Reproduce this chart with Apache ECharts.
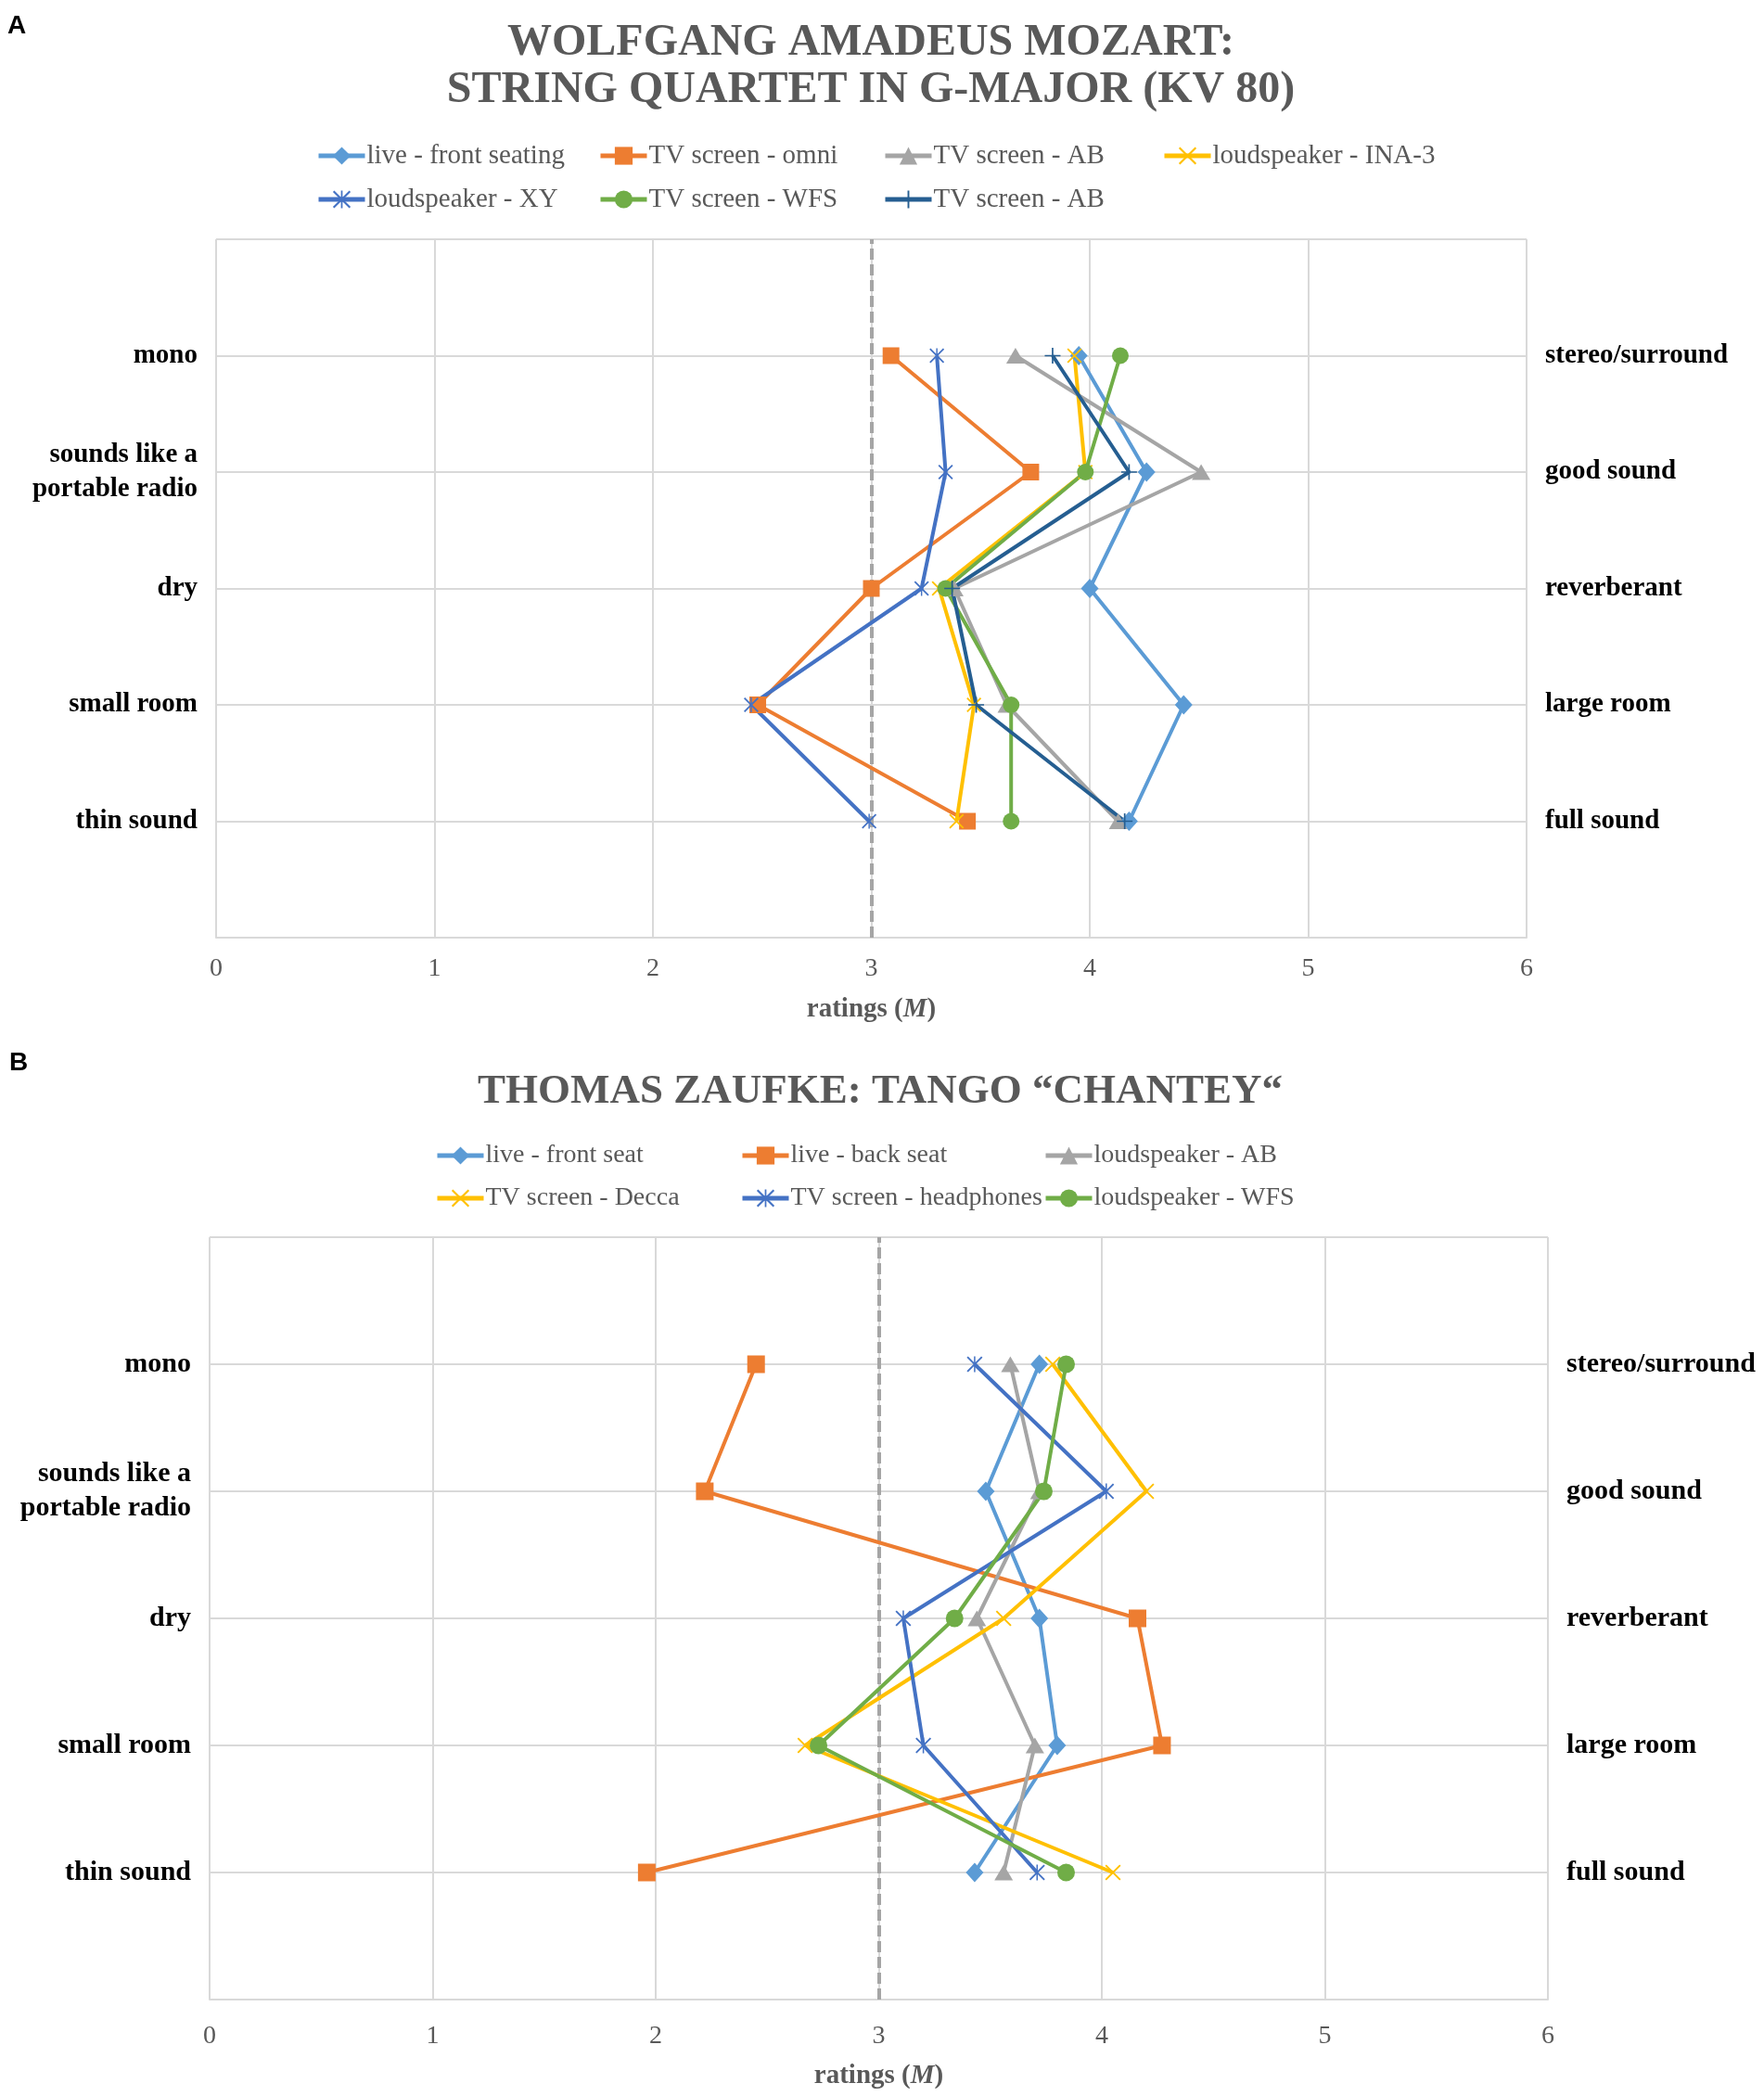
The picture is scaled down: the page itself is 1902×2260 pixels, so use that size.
<!DOCTYPE html>
<html>
<head>
<meta charset="utf-8">
<style>
html,body{margin:0;padding:0;background:#fff;}
#chart{width:1902px;height:2260px;}
</style>
<script src="https://cdn.jsdelivr.net/npm/echarts@6/dist/echarts.min.js"></script>
</head>
<body>
<div id="chart"></div>
<script>
// ---- data ----
const leftLabels = ['mono', 'sounds like a\nportable radio', 'dry', 'small room', 'thin sound'];
const rightLabels = ['stereo/surround', 'good sound', 'reverberant', 'large room', 'full sound'];
const rowPositions = [5, 4, 3, 2, 1];
const neutralRating = 3;

const titleA = ['WOLFGANG AMADEUS MOZART:', 'STRING QUARTET IN G-MAJOR (KV 80)'];
const titleB = 'THOMAS ZAUFKE: TANGO “CHANTEY“';

// Panel A series (order of rows: mono, good sound, dry, small room, thin sound)
const namesA = ['live - front seating', 'TV screen - omni', 'TV screen - AB', 'loudspeaker - INA-3',
                'loudspeaker - XY', 'TV screen - WFS', 'TV screen - AB '];
const mozartLiveFront   = [3.95, 4.26, 4.00, 4.43, 4.18];
const mozartTvOmni      = [3.09, 3.73, 3.00, 2.48, 3.44];
const mozartTvAB        = [3.66, 4.51, 3.38, 3.62, 4.13];
const mozartLsINA3      = [3.93, 3.98, 3.31, 3.47, 3.39];
const mozartLsXY        = [3.30, 3.34, 3.23, 2.45, 2.99];
const mozartTvWFS       = [4.14, 3.98, 3.34, 3.64, 3.64];
const mozartTvAB2       = [3.83, 4.18, 3.37, 3.48, 4.16];

// Panel B series
const namesB = ['live - front seat', 'live - back seat', 'loudspeaker - AB',
                'TV screen - Decca', 'TV screen - headphones', 'loudspeaker - WFS'];
const tangoLiveFront    = [3.72, 3.48, 3.72, 3.80, 3.43];
const tangoLiveBack     = [2.45, 2.22, 4.16, 4.27, 1.96];
const tangoLsAB         = [3.59, 3.72, 3.44, 3.70, 3.56];
const tangoTvDecca      = [3.78, 4.20, 3.56, 2.67, 4.05];
const tangoTvHeadphones = [3.43, 4.02, 3.11, 3.20, 3.71];
const tangoLsWFS        = [3.84, 3.74, 3.34, 2.73, 3.84];

// ---- styling ----
const SERIF = '"Liberation Serif", "Times New Roman", serif';
const GRAY_TXT = '#595959';
const GRID_CLR = '#D9D9D9';
const C = {
  lightBlue: '#5B9BD5', orange: '#ED7D31', gray: '#A5A5A5', gold: '#FFC000',
  blue: '#4472C4', green: '#70AD47', navy: '#255E91'
};
const XPATH = 'path://M0 0.8 L0.8 0 L10 9.2 L9.2 10 Z M9.2 0 L10 0.8 L0.8 10 L0 9.2 Z';
const STARPATH = 'path://M0 0.8 L0.8 0 L10 9.2 L9.2 10 Z M9.2 0 L10 0.8 L0.8 10 L0 9.2 Z M4.55 0 L5.45 0 L5.45 10 L4.55 10 Z';
const PLUSPATH = 'path://M4.5 0 L5.5 0 L5.5 10 L4.5 10 Z M0 5.5 L0 4.5 L10 4.5 L10 5.5 Z';

const gridA = {left: 233, top: 258, width: 1413, height: 753};
const gridB = {left: 226, top: 1334, width: 1443, height: 822};

function toPoints(vals) { return vals.map((v, i) => [v, rowPositions[i]]); }

function mkSeries(name, vals, color, symbol, size, axisIdx, withMark) {
  const s = {
    name: name, type: 'line', xAxisIndex: axisIdx, yAxisIndex: axisIdx * 2,
    data: toPoints(vals), symbol: symbol, symbolSize: size, showSymbol: true,
    lineStyle: {color: color, width: 4}, itemStyle: {color: color, borderWidth: 0},
    color: color, animation: false, z: 3
  };
  if (withMark) {
    s.markLine = {
      silent: true, symbol: ['none', 'none'], label: {show: false},
      lineStyle: {color: '#A5A5A5', width: 4, type: [12, 5]},
      data: [{xAxis: neutralRating}], z: 2, animation: false
    };
  }
  return s;
}

function catFormatter(labels) {
  return function (v) {
    const i = rowPositions.indexOf(Math.round(v));
    return i >= 0 ? labels[i] : '';
  };
}

function xAxisCfg(gridIndex, margin, gap) {
  return {
    type: 'value', gridIndex: gridIndex, min: 0, max: 6, interval: 1,
    axisLine: {show: true, lineStyle: {color: GRID_CLR, width: 2}},
    axisTick: {show: false},
    splitLine: {show: true, lineStyle: {color: GRID_CLR, width: 2}},
    axisLabel: {color: GRAY_TXT, fontFamily: SERIF, fontSize: 28, margin: margin},
    name: '{b|ratings (}{i|M}{b|)}', nameLocation: 'middle', nameGap: gap,
    nameTextStyle: {
      rich: {
        b: {fontFamily: SERIF, fontWeight: 'bold', fontSize: 29, color: GRAY_TXT},
        i: {fontFamily: SERIF, fontWeight: 'bold', fontStyle: 'italic', fontSize: 29, color: GRAY_TXT}
      }
    }
  };
}

function yAxisCfg(gridIndex, position, labels, fs, showSplit) {
  return {
    type: 'value', gridIndex: gridIndex, position: position, min: 0, max: 6, interval: 1,
    axisLine: {show: false}, axisTick: {show: false},
    splitLine: {show: showSplit, lineStyle: {color: GRID_CLR, width: 2}},
    axisLabel: {
      formatter: catFormatter(labels), color: '#000', fontFamily: SERIF, fontWeight: 'bold',
      fontSize: fs, lineHeight: 37, margin: 20,
      align: position === 'left' ? 'right' : 'left'
    }
  };
}

function legendCol(left, top, items, fs, gap) {
  return {
    orient: 'vertical', left: left, top: top, data: items,
    itemWidth: 50, itemHeight: 24, itemGap: gap,
    lineStyle: {width: 5},
    textStyle: {fontFamily: SERIF, fontSize: fs, color: GRAY_TXT, lineHeight: 30, padding: [0, 0, 0, -3]},
    selectedMode: false
  };
}

const series = [
  mkSeries(namesA[0], mozartLiveFront, C.lightBlue, 'diamond', [19, 21], 0, true),
  mkSeries(namesA[1], mozartTvOmni, C.orange, 'rect', 18, 0, false),
  mkSeries(namesA[2], mozartTvAB, C.gray, 'triangle', [20, 17], 0, false),
  mkSeries(namesA[3], mozartLsINA3, C.gold, XPATH, 16, 0, false),
  mkSeries(namesA[4], mozartLsXY, C.blue, STARPATH, 16, 0, false),
  mkSeries(namesA[5], mozartTvWFS, C.green, 'circle', 18, 0, false),
  mkSeries(namesA[6], mozartTvAB2, C.navy, PLUSPATH, 17, 0, false),

  mkSeries(namesB[0], tangoLiveFront, C.lightBlue, 'diamond', [19, 21], 1, true),
  mkSeries(namesB[1], tangoLiveBack, C.orange, 'rect', 19, 1, false),
  mkSeries(namesB[2], tangoLsAB, C.gray, 'triangle', [20, 17], 1, false),
  mkSeries(namesB[3], tangoTvDecca, C.gold, XPATH, 17, 1, false),
  mkSeries(namesB[4], tangoTvHeadphones, C.blue, STARPATH, 17, 1, false),
  mkSeries(namesB[5], tangoLsWFS, C.green, 'circle', 19, 1, false)
];

const option = {
  backgroundColor: '#fff',
  animation: false,
  grid: [
    Object.assign({containLabel: false}, gridA),
    Object.assign({containLabel: false}, gridB)
  ],
  xAxis: [xAxisCfg(0, 20, 63), xAxisCfg(1, 26, 68)],
  yAxis: [
    yAxisCfg(0, 'left', leftLabels, 29, true),
    yAxisCfg(0, 'right', rightLabels, 29, false),
    yAxisCfg(1, 'left', leftLabels, 30, true),
    yAxisCfg(1, 'right', rightLabels, 30, false)
  ],
  legend: [
    legendCol(336, 148, [namesA[0], namesA[4]], 29, 17),
    legendCol(640, 148, [namesA[1], namesA[5]], 29, 17),
    legendCol(947, 148, [namesA[2], namesA[6]], 29, 17),
    legendCol(1248, 148, [namesA[3]], 29, 17),
    legendCol(464, 1226, [namesB[0], namesB[3]], 28, 16),
    legendCol(793, 1226, [namesB[1], namesB[4]], 28, 16),
    legendCol(1120, 1226, [namesB[2], namesB[5]], 28, 16)
  ],
  graphic: [
    {type: 'text', left: 8, top: 14, style: {text: 'A', font: 'bold 28px "Liberation Sans", Arial, sans-serif', fill: '#000'}},
    {type: 'text', left: 10, top: 1132, style: {text: 'B', font: 'bold 28px "Liberation Sans", Arial, sans-serif', fill: '#000'}},
    {type: 'text', x: 939, y: 47, style: {text: titleA[0], font: 'bold 48px ' + SERIF, fill: GRAY_TXT, align: 'center', verticalAlign: 'middle'}},
    {type: 'text', x: 939, y: 98, style: {text: titleA[1], font: 'bold 48px ' + SERIF, fill: GRAY_TXT, align: 'center', verticalAlign: 'middle'}},
    {type: 'text', x: 949, y: 1177, style: {text: titleB, font: 'bold 45px ' + SERIF, fill: GRAY_TXT, align: 'center', verticalAlign: 'middle'}}
  ],
  series: series
};

const chart = echarts.init(document.getElementById('chart'), null, {renderer: 'canvas'});
chart.setOption(option);
</script>
</body>
</html>
